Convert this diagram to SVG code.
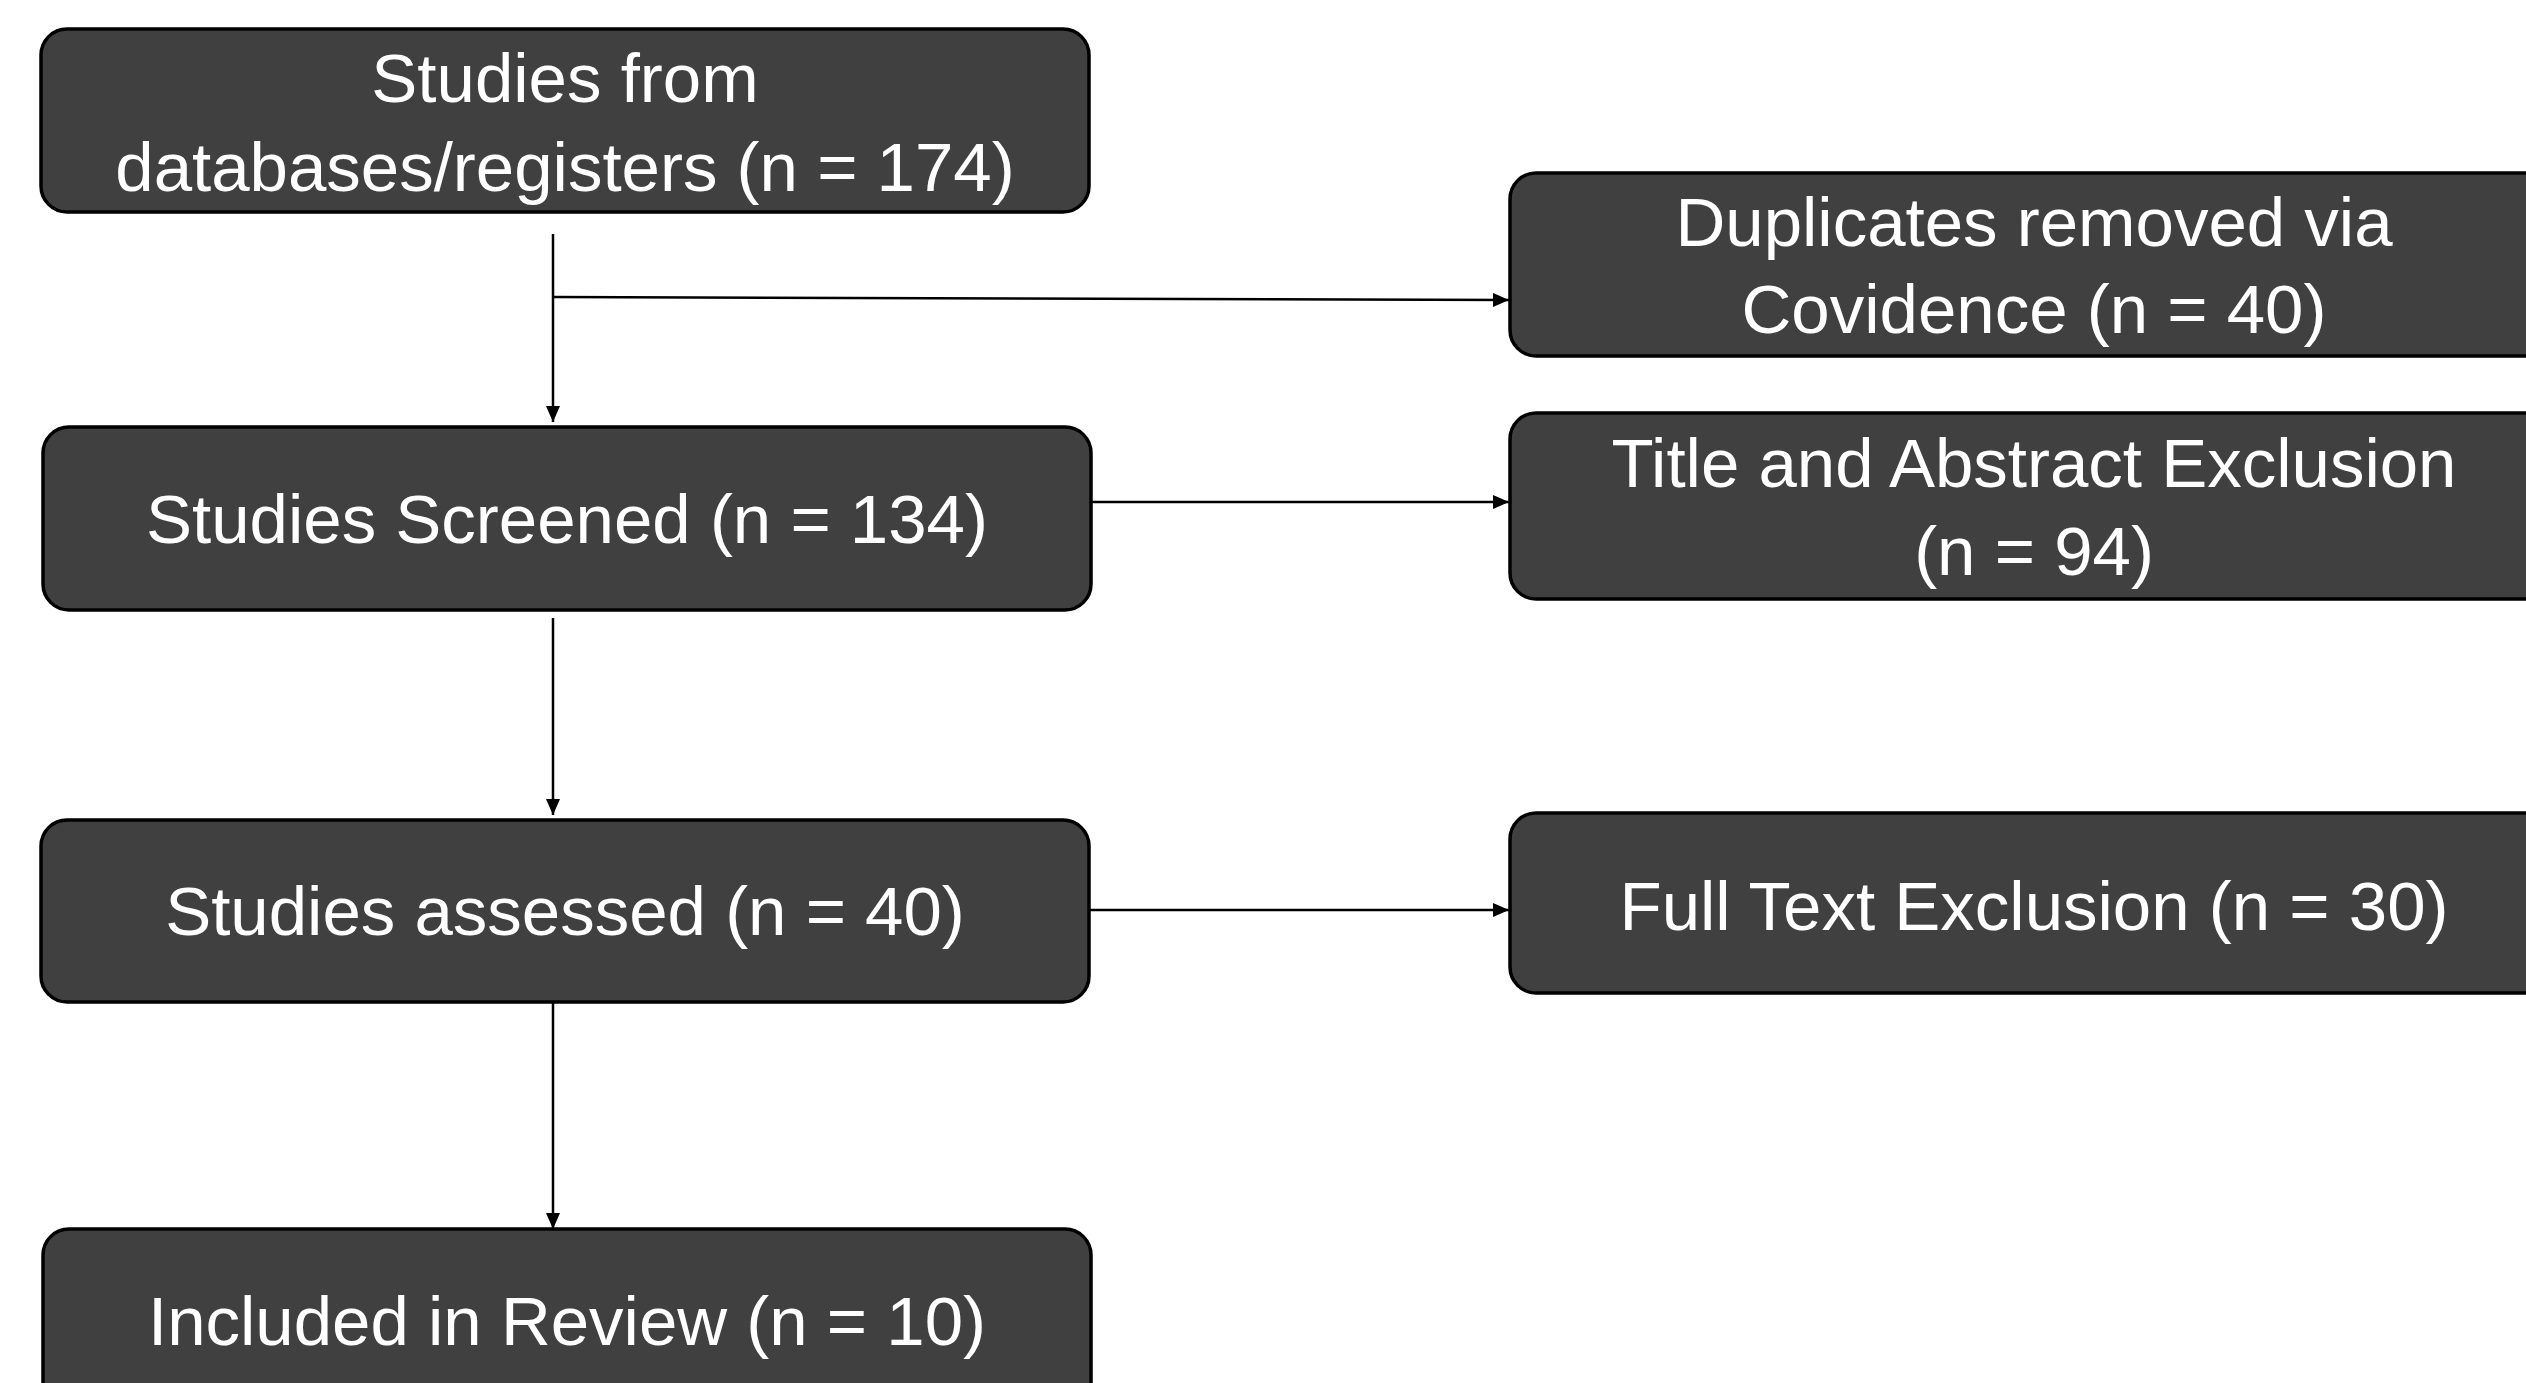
<svg xmlns="http://www.w3.org/2000/svg" width="2526" height="1383" viewBox="0 0 2526 1383">
<style>
.box{fill:#404040;stroke:#000;stroke-width:3.5}
.lbl{fill:#fff;font-family:"Liberation Sans",Arial,sans-serif;font-size:69px;text-anchor:middle}
.conn{stroke:#000;stroke-width:2.5;fill:none}
</style>
<defs>
<marker id="arr" markerUnits="userSpaceOnUse" markerWidth="16" markerHeight="14" refX="16" refY="7" orient="auto">
<path d="M0,0 L16,7 L0,14 z" fill="#000"/>
</marker>
</defs>
<rect width="2526" height="1383" fill="#fff"/>
<g id="connectors">
<line class="conn" x1="553" y1="234" x2="553" y2="422" marker-end="url(#arr)"/>
<line class="conn" x1="553" y1="297" x2="1509" y2="300" marker-end="url(#arr)"/>
<line class="conn" x1="1091" y1="502" x2="1509" y2="502" marker-end="url(#arr)"/>
<line class="conn" x1="553" y1="618" x2="553" y2="815" marker-end="url(#arr)"/>
<line class="conn" x1="1089" y1="910" x2="1509" y2="910" marker-end="url(#arr)"/>
<line class="conn" x1="553" y1="1002" x2="553" y2="1229" marker-end="url(#arr)"/>
</g>
<g id="n-identified">
<rect class="box" x="41" y="29" width="1048" height="183" rx="26"/>
<text class="lbl" x="565" y="102">Studies from</text>
<text class="lbl" x="565" y="191">databases/registers (n = 174)</text>
</g>
<g id="n-screened">
<rect class="box" x="43" y="427" width="1048" height="183" rx="26"/>
<text class="lbl" x="567" y="543">Studies Screened (n = 134)</text>
</g>
<g id="n-assessed">
<rect class="box" x="41" y="820" width="1048" height="182" rx="26"/>
<text class="lbl" x="565" y="935">Studies assessed (n = 40)</text>
</g>
<g id="n-included">
<rect class="box" x="43" y="1229" width="1048" height="183" rx="26"/>
<text class="lbl" x="567" y="1345">Included in Review (n = 10)</text>
</g>
<g id="n-duplicates">
<rect class="box" x="1510" y="173" width="1048" height="183" rx="26"/>
<text class="lbl" x="2034" y="246">Duplicates removed via</text>
<text class="lbl" x="2034" y="333">Covidence (n = 40)</text>
</g>
<g id="n-title">
<rect class="box" x="1510" y="413" width="1048" height="186" rx="26"/>
<text class="lbl" x="2034" y="487" font-size="70">Title and Abstract Exclusion</text>
<text class="lbl" x="2034" y="575">(n = 94)</text>
</g>
<g id="n-fulltext">
<rect class="box" x="1510" y="813" width="1048" height="180" rx="26"/>
<text class="lbl" x="2034" y="930">Full Text Exclusion (n = 30)</text>
</g>
</svg>
